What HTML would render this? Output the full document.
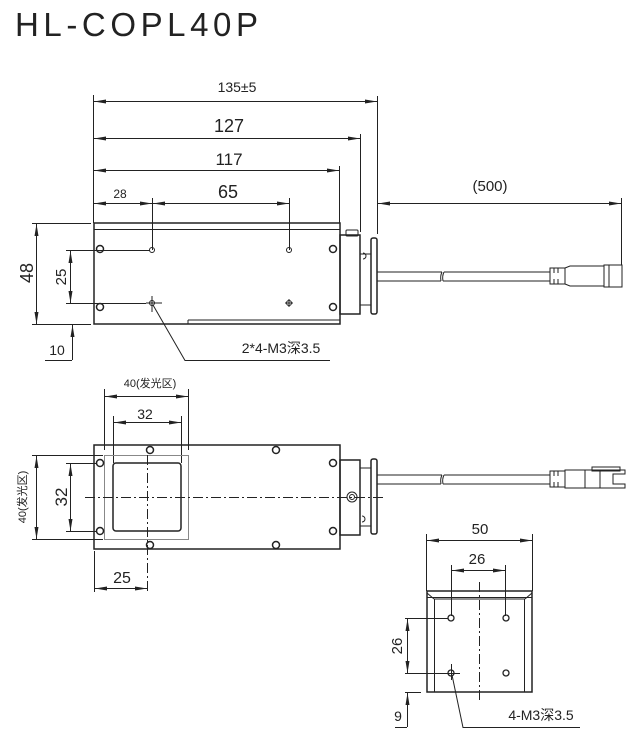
<!DOCTYPE html>
<html><head><meta charset="utf-8"><style>
html,body{margin:0;padding:0;background:#fff;}
svg{display:block;font-family:"Liberation Sans","Noto Sans CJK SC",sans-serif;}
</style></head><body>
<svg width="641" height="749" viewBox="0 0 641 749" xmlns="http://www.w3.org/2000/svg">
<defs>
<marker id="a" viewBox="0 0 12 4" refX="12" refY="2" markerWidth="12" markerHeight="4" orient="auto-start-reverse" markerUnits="userSpaceOnUse"><path d="M0,0 L12,2 L0,4z" fill="#222"/></marker>
</defs>
<text x="15" y="36" font-size="33" fill="#222" textLength="243" lengthAdjust="spacing">HL-COPL40P</text>

<g stroke="#222" stroke-width="1" fill="none">
<!-- top view extension lines -->
<line x1="93.5" y1="95" x2="93.5" y2="223"/>
<line x1="377.5" y1="96" x2="377.5" y2="234"/>
<line x1="360.5" y1="134" x2="360.5" y2="232"/>
<line x1="339.5" y1="166" x2="339.5" y2="223"/>
<line x1="152.5" y1="198" x2="152.5" y2="250"/>
<line x1="289.5" y1="198" x2="289.5" y2="250"/>
<line x1="621.5" y1="198" x2="621.5" y2="265"/>
<!-- dims -->
<line x1="94" y1="101.5" x2="377" y2="101.5" marker-start="url(#a)" marker-end="url(#a)"/>
<line x1="94" y1="138.5" x2="360" y2="138.5" marker-start="url(#a)" marker-end="url(#a)"/>
<line x1="94" y1="170.5" x2="339" y2="170.5" marker-start="url(#a)" marker-end="url(#a)"/>
<line x1="94" y1="203.5" x2="152" y2="203.5" marker-start="url(#a)" marker-end="url(#a)"/>
<line x1="153" y1="203.5" x2="289" y2="203.5" marker-start="url(#a)" marker-end="url(#a)"/>
<line x1="378" y1="203.5" x2="621" y2="203.5" marker-start="url(#a)" marker-end="url(#a)"/>
<!-- body top -->
<rect x="94" y="223" width="246" height="101" stroke-width="1.5"/>
<line x1="94" y1="229.5" x2="340" y2="229.5"/>
<line x1="188" y1="320" x2="340" y2="320"/>
<line x1="188" y1="320" x2="188" y2="324"/>
<circle cx="100" cy="249" r="3.5" stroke-width="1.5"/><circle cx="100" cy="307" r="3.5" stroke-width="1.5"/>
<circle cx="333" cy="249" r="3.5" stroke-width="1.5"/><circle cx="333" cy="307" r="3.5" stroke-width="1.5"/>
<circle cx="152" cy="250" r="2.5"/><circle cx="289" cy="250" r="2.5"/>
<circle cx="152" cy="303" r="2.5"/><circle cx="289" cy="303" r="2.5"/>
<line x1="146" y1="303" x2="162" y2="303"/><line x1="152" y1="296" x2="152" y2="312"/>
<line x1="285" y1="303" x2="293" y2="303"/><line x1="289" y1="299" x2="289" y2="307"/>
<!-- connector top -->
<rect x="340" y="235" width="20" height="79" stroke-width="1.5"/>
<rect x="346" y="230" width="12" height="6" rx="1"/>
<rect x="360" y="254" width="11" height="51"/>
<path d="M363,253 a3,3 0 0 1 0,6"/>
<rect x="371" y="238" width="6" height="76" rx="2" stroke-width="1.5"/>
<path d="M377,272 H442 M444,272 H550 M377,281 H441 M443,281 H550"/>
<path d="M442,272 q-2,4 -1,9 M444,272 q-2,4 -1,9"/>
<rect x="550" y="268" width="15" height="16"/>
<path d="M554,268 v5 M554,279 v5 M558,268 v5 M558,279 v5"/>
<path d="M565,268 L570,266 H604 V286 H570 L565,284"/>
<rect x="604" y="265" width="5" height="22"/>
<rect x="609" y="265" width="13" height="22"/>
<!-- left dims top view -->
<line x1="32" y1="223.5" x2="91" y2="223.5"/>
<line x1="32" y1="324.5" x2="91" y2="324.5"/>
<line x1="36.5" y1="224" x2="36.5" y2="324" marker-start="url(#a)" marker-end="url(#a)"/>
<line x1="66" y1="250.5" x2="150" y2="250.5"/>
<line x1="66" y1="303.5" x2="146" y2="303.5"/>
<line x1="70.5" y1="251" x2="70.5" y2="303" marker-start="url(#a)" marker-end="url(#a)"/>
<line x1="72.5" y1="360" x2="72.5" y2="325" marker-end="url(#a)"/>
<line x1="45" y1="360.5" x2="72" y2="360.5"/>
<path d="M153,305 L185,360.5 H330"/>
</g>
<g fill="#222" text-anchor="middle">
<text x="237" y="92" font-size="14">135±5</text>
<text x="229" y="132" font-size="18">127</text>
<text x="229" y="165" font-size="17">117</text>
<text x="120" y="198" font-size="12">28</text>
<text x="228" y="198" font-size="18">65</text>
<text x="490" y="191" font-size="15">(500)</text>
<text transform="translate(33,273) rotate(-90)" font-size="18">48</text>
<text transform="translate(66,277) rotate(-90)" font-size="15">25</text>
<text x="57" y="355" font-size="14">10</text>
<text x="281" y="353" font-size="14">2*4-M3深3.5</text>
</g>

<!-- bottom view -->
<g stroke="#222" stroke-width="1" fill="none">
<line x1="104.5" y1="389" x2="104.5" y2="450"/>
<line x1="188.5" y1="389" x2="188.5" y2="450"/>
<line x1="105" y1="396.5" x2="188" y2="396.5" marker-start="url(#a)" marker-end="url(#a)"/>
<line x1="113.5" y1="416" x2="113.5" y2="463"/>
<line x1="181.5" y1="416" x2="181.5" y2="463"/>
<line x1="114" y1="422.5" x2="181" y2="422.5" marker-start="url(#a)" marker-end="url(#a)"/>
<rect x="94" y="445" width="246" height="104" stroke-width="1.5"/>
<rect x="104.5" y="455.5" width="84" height="84" stroke="#888"/>
<rect x="113" y="463" width="68" height="68" rx="3" stroke-width="1.5"/>
<circle cx="100" cy="463" r="3.5" stroke-width="1.5"/><circle cx="100" cy="531" r="3.5" stroke-width="1.5"/>
<circle cx="150" cy="450" r="3.5" stroke-width="1.5"/><circle cx="150" cy="545" r="3.5" stroke-width="1.5"/>
<circle cx="276" cy="450" r="3.5" stroke-width="1.5"/><circle cx="276" cy="545" r="3.5" stroke-width="1.5"/>
<circle cx="333" cy="463" r="3.5" stroke-width="1.5"/><circle cx="333" cy="531" r="3.5" stroke-width="1.5"/>
<line x1="85" y1="497.5" x2="385" y2="497.5" stroke-dasharray="10,3,2,3"/>
<line x1="147.5" y1="455" x2="147.5" y2="592" stroke-dasharray="10,3,2,3"/>
<rect x="340" y="460" width="20" height="75" stroke-width="1.5"/>
<rect x="360" y="468" width="11" height="58"/>
<path d="M362,516 a3,3 0 0 1 0,6"/>
<rect x="371" y="459" width="6" height="75" rx="2" stroke-width="1.5"/>
<circle cx="352" cy="497" r="5"/><circle cx="352" cy="497" r="2.5"/>
<path d="M377,475 H442 M444,475 H550 M377,484 H441 M443,484 H550"/>
<path d="M442,475 q-2,4 -1,9 M444,475 q-2,4 -1,9"/>
<rect x="550" y="471" width="15" height="16"/>
<path d="M554,471 v5 M554,482 v5 M558,471 v5 M558,482 v5"/>
<rect x="565" y="470" width="20" height="18"/>
<rect x="585" y="470" width="15" height="18"/>
<path d="M600,470 H625 V474 H613 V484 H625 V488 H600 Z"/>
<rect x="592" y="467" width="28" height="4"/>
<line x1="32" y1="455.5" x2="103" y2="455.5"/>
<line x1="32" y1="539.5" x2="103" y2="539.5"/>
<line x1="36.5" y1="456" x2="36.5" y2="539" marker-start="url(#a)" marker-end="url(#a)"/>
<line x1="66" y1="463.5" x2="96" y2="463.5"/>
<line x1="66" y1="531.5" x2="96" y2="531.5"/>
<line x1="70.5" y1="464" x2="70.5" y2="531" marker-start="url(#a)" marker-end="url(#a)"/>
<line x1="94.5" y1="551" x2="94.5" y2="592"/>
<line x1="95" y1="588.5" x2="147" y2="588.5" marker-start="url(#a)" marker-end="url(#a)"/>
</g>
<g fill="#222" text-anchor="middle">
<text x="150" y="387" font-size="11">40(发光区)</text>
<text x="145" y="419" font-size="14">32</text>
<text transform="translate(26,497) rotate(-90)" font-size="11">40(发光区)</text>
<text transform="translate(67,497) rotate(-90)" font-size="17">32</text>
<text x="122" y="583" font-size="16">25</text>
</g>

<!-- end view -->
<g stroke="#222" stroke-width="1" fill="none">
<line x1="426.5" y1="534" x2="426.5" y2="591"/>
<line x1="532.5" y1="534" x2="532.5" y2="591"/>
<line x1="427" y1="540.5" x2="532" y2="540.5" marker-start="url(#a)" marker-end="url(#a)"/>
<line x1="451.5" y1="565" x2="451.5" y2="616"/>
<line x1="505.5" y1="565" x2="505.5" y2="616"/>
<line x1="452" y1="570.5" x2="505" y2="570.5" marker-start="url(#a)" marker-end="url(#a)"/>
<rect x="427" y="591" width="105" height="101" stroke-width="1.5"/>
<path d="M427,597.5 H532 M434,599 H525 M434.5,599 V692 M524.5,599 V692 M434,599 L427,593 M525,599 L532,593"/>
<line x1="479.5" y1="582" x2="479.5" y2="700" stroke-dasharray="10,3,2,3"/>
<circle cx="451" cy="618" r="3" stroke-width="1.3"/><circle cx="506" cy="618" r="3" stroke-width="1.3"/>
<circle cx="451" cy="673" r="3" stroke-width="1.3"/><circle cx="506" cy="673" r="3" stroke-width="1.3"/>
<line x1="405" y1="618.5" x2="448" y2="618.5"/>
<line x1="405" y1="673.5" x2="460" y2="673.5"/>
<line x1="451.5" y1="664" x2="451.5" y2="680"/>
<line x1="407.5" y1="619" x2="407.5" y2="673" marker-start="url(#a)" marker-end="url(#a)"/>
<line x1="405" y1="692.5" x2="421" y2="692.5"/>
<line x1="407.5" y1="727" x2="407.5" y2="693" marker-end="url(#a)"/>
<line x1="395" y1="727.5" x2="407" y2="727.5"/>
<path d="M452,675 L463,727.5 H580"/>
</g>
<g fill="#222" text-anchor="middle">
<text x="480" y="534" font-size="15">50</text>
<text x="477" y="564" font-size="15">26</text>
<text transform="translate(402,646) rotate(-90)" font-size="15">26</text>
<text x="398" y="721" font-size="14">9</text>
<text x="541" y="720" font-size="14">4-M3深3.5</text>
</g>
</svg>
</body></html>
